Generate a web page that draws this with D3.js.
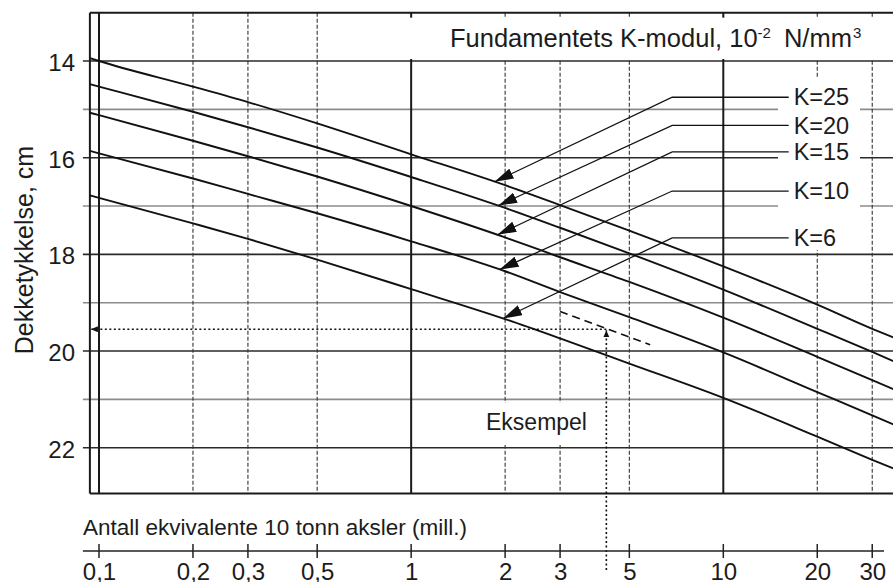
<!DOCTYPE html>
<html><head><meta charset="utf-8">
<script src="https://cdn.jsdelivr.net/npm/d3@7"></script>
<style>
body{margin:0;background:#fff}
svg{display:block}
text{font-family:"Liberation Sans",Arial,Helvetica,sans-serif;fill:#1c1c1c}
</style>
</head><body><svg id="c" width="893" height="582"></svg>
<script>
// ---------- data ----------
const xTicks = [0.1, 0.2, 0.3, 0.5, 1, 2, 3, 5, 10, 20, 30];
const xTickLabels = ["0,1", "0,2", "0,3", "0,5", "1", "2", "3", "5", "10", "20", "30"];
const solidX = [0.1, 1, 10];
const yTicks = [14, 16, 18, 20, 22];
const yGrid = [14, 15, 16, 17, 18, 19, 20, 21, 22];
const seriesNames = ["K=25", "K=20", "K=15", "K=10", "K=6"];
const xPoints = [0.0935, 0.1, 0.2, 0.3, 0.5, 1, 2, 3, 5, 10, 20, 30, 35.1];
const k25 = [13.94, 14.00, 14.53, 14.85, 15.29, 15.93, 16.57, 16.98, 17.51, 18.25, 19.04, 19.54, 19.72];
const k20 = [14.48, 14.53, 15.05, 15.37, 15.79, 16.40, 17.04, 17.45, 17.98, 18.73, 19.54, 20.02, 20.21];
const k15 = [15.07, 15.12, 15.65, 15.97, 16.39, 17.00, 17.65, 18.06, 18.57, 19.31, 20.12, 20.60, 20.79];
const k10 = [15.86, 15.91, 16.43, 16.75, 17.15, 17.73, 18.35, 18.78, 19.30, 20.03, 20.85, 21.33, 21.52];
const k6  = [16.78, 16.83, 17.36, 17.68, 18.11, 18.72, 19.34, 19.74, 20.26, 20.97, 21.77, 22.25, 22.43];
// label annotations (data units)
const labelY = [14.75, 15.33, 15.88, 16.69, 17.66];
const arrowTipX = [1.85, 1.9, 1.89, 1.92, 1.97];
// example
const exampleTraffic = 4.22;
const exampleThickness = 19.55;
const exampleDashX = [3.0, 5.83];
const exampleDashY = [19.18, 19.87];

const titleText = "Fundamentets K-modul, 10";
const yLabel = "Dekketykkelse, cm";
const xLabel = "Antall ekvivalente 10 tonn aksler (mill.)";
const exampleLabel = "Eksempel";

// ---------- scales ----------
const x = d3.scaleLog().domain([0.1, 10]).range([99, 723.3]);
const y = d3.scaleLinear().domain([14, 22]).range([61, 447.7]);
const frameX = [0.0935, 36];
const frameY = [13, 22.95];
const X0 = x(frameX[0]), X1 = x(frameX[1]), Y0 = y(frameY[0]), Y1 = y(frameY[1]);

const svg = d3.select("#c");
const defs = svg.append("defs");
function marker(id, len, w) {
  defs.append("marker").attr("id", id).attr("markerUnits", "userSpaceOnUse")
    .attr("viewBox", `0 ${-w/2} ${len} ${w}`).attr("refX", len).attr("refY", 0)
    .attr("markerWidth", len).attr("markerHeight", w).attr("orient", "auto")
    .append("path").attr("d", `M0,${-w/2}L${len},0L0,${w/2}Z`).attr("fill", "#111");
}
marker("big", 19, 11);
marker("small", 7, 6);

// ---------- grid ----------
const g = svg.append("g");
g.selectAll("line.h").data(yGrid).join("line")
  .attr("x1", X0 - 7).attr("x2", X1).attr("y1", d => y(d)).attr("y2", d => y(d))
  .attr("stroke", d => d % 2 === 0 ? "#2a2a2a" : "#8c8c8c").attr("stroke-width", 1.6);
g.selectAll("line.vd").data(xTicks.filter(v => !solidX.includes(v))).join("line")
  .attr("x1", d => x(d)).attr("x2", d => x(d)).attr("y1", Y0).attr("y2", Y1)
  .attr("stroke", "#333").attr("stroke-width", 1.1).attr("stroke-dasharray", "4,2");
g.selectAll("line.vs").data(solidX).join("line")
  .attr("x1", d => x(d)).attr("x2", d => x(d)).attr("y1", Y0).attr("y2", Y1)
  .attr("stroke", "#1a1a1a").attr("stroke-width", 2);
g.append("line").attr("x1", X0).attr("x2", X0).attr("y1", Y0).attr("y2", Y1).attr("stroke", "#1a1a1a").attr("stroke-width", 2);
g.append("line").attr("x1", X0).attr("x2", X1).attr("y1", Y0).attr("y2", Y0).attr("stroke", "#1a1a1a").attr("stroke-width", 2);
g.append("line").attr("x1", X0).attr("x2", X1).attr("y1", Y1).attr("y2", Y1).attr("stroke", "#1a1a1a").attr("stroke-width", 2);

// white boxes behind annotations
svg.append("rect").attr("x", 380).attr("y", Y0 + 5).attr("width", 893 - 380).attr("height", y(14) - Y0 - 7).attr("fill", "#fff");
svg.append("rect").attr("x", 778).attr("y", 78).attr("width", 82).attr("height", 172).attr("fill", "#fff");
svg.append("rect").attr("x", 480).attr("y", 403).attr("width", 115).attr("height", 42).attr("fill", "#fff");

// ---------- curves ----------
const series = [k25, k20, k15, k10, k6];
const line = d3.line().x(d => x(d[0])).y(d => y(d[1])).curve(d3.curveMonotoneX);
svg.append("g").selectAll("path").data(series).join("path")
  .attr("d", s => line(xPoints.map((v, i) => [v, s[i]])))
  .attr("fill", "none").attr("stroke", "#111").attr("stroke-width", 1.9);

// ---------- K labels with leaders ----------
function valueAt(s, xv) {
  const lx = Math.log10(xv);
  for (let i = 0; i < xPoints.length - 1; i++) {
    const a = Math.log10(xPoints[i]), b = Math.log10(xPoints[i + 1]);
    if (lx >= a && lx <= b) return s[i] + (s[i + 1] - s[i]) * (lx - a) / (b - a);
  }
  return s[s.length - 1];
}
const elbowX = 6.86, leaderEndX = 16.2, labelX = 16.8;
const lg = svg.append("g");
seriesNames.forEach((name, i) => {
  const ty = valueAt(series[i], arrowTipX[i]);
  lg.append("polyline")
    .attr("points", `${x(leaderEndX)},${y(labelY[i])} ${x(elbowX)},${y(labelY[i])} ${x(arrowTipX[i])},${y(ty)}`)
    .attr("fill", "none").attr("stroke", "#111").attr("stroke-width", 1.3).attr("marker-end", "url(#big)");
  lg.append("text").attr("x", x(labelX)).attr("y", y(labelY[i])).attr("dy", "0.35em")
    .attr("font-size", 23.5).text(name);
});

// ---------- example ----------
svg.append("line")
  .attr("x1", x(exampleDashX[0])).attr("y1", y(exampleDashY[0]))
  .attr("x2", x(exampleDashX[1])).attr("y2", y(exampleDashY[1]))
  .attr("stroke", "#111").attr("stroke-width", 1.6).attr("stroke-dasharray", "8,5");
svg.append("line")
  .attr("x1", x(exampleTraffic)).attr("y1", 570)
  .attr("x2", x(exampleTraffic)).attr("y2", y(exampleThickness) + 1)
  .attr("stroke", "#111").attr("stroke-width", 1.6).attr("stroke-dasharray", "2,2.5").attr("marker-end", "url(#small)");
svg.append("line")
  .attr("x1", x(exampleTraffic)).attr("y1", y(exampleThickness))
  .attr("x2", X0 + 1).attr("y2", y(exampleThickness))
  .attr("stroke", "#111").attr("stroke-width", 1.6).attr("stroke-dasharray", "2,2.5").attr("marker-end", "url(#small)");
svg.append("text").attr("x", 486).attr("y", 430).attr("font-size", 23).text(exampleLabel);

// ---------- title ----------
const tt = svg.append("text").attr("x", 450).attr("y", 47).attr("font-size", 25.5);
tt.append("tspan").text(titleText);
tt.append("tspan").attr("font-size", 15).attr("dy", -9).text("-2");
tt.append("tspan").attr("dy", 9).attr("dx", 13).text("N/mm");
tt.append("tspan").attr("font-size", 15).attr("dy", -9).attr("dx", 1).text("3");

// ---------- y axis labels ----------
svg.append("g").selectAll("text").data(yTicks).join("text")
  .attr("x", 75).attr("y", d => y(d)).attr("dy", "0.42em").attr("text-anchor", "end")
  .attr("font-size", 24).text(d => d);
svg.append("text").attr("transform", "translate(33,250) rotate(-90)")
  .attr("text-anchor", "middle").attr("font-size", 25).text(yLabel);

// ---------- x axis ----------
const axisY = 551;
const xa = svg.append("g").attr("transform", `translate(0,${axisY})`)
  .call(d3.axisBottom(x).tickValues(xTicks).tickFormat((d, i) => xTickLabels[i]).tickSize(0));
xa.select(".domain").remove();
xa.selectAll("text").attr("font-size", 24).attr("dy", 0).attr("y", 29)
  .style("font-family", '"Liberation Sans",Arial,sans-serif').attr("fill", "#1c1c1c");
xa.append("line").attr("x1", X0 - 7).attr("x2", 884).attr("y1", 0).attr("y2", 0).attr("stroke", "#222").attr("stroke-width", 1.5);
xa.selectAll("line.tk").data(xTicks).join("line").attr("class", "tk")
  .attr("x1", d => x(d)).attr("x2", d => x(d)).attr("y1", -7).attr("y2", 7)
  .attr("stroke", "#222").attr("stroke-width", 1.5);
svg.append("text").attr("x", 83).attr("y", 535).attr("font-size", 22.5).text(xLabel);
</script>
</body></html>
